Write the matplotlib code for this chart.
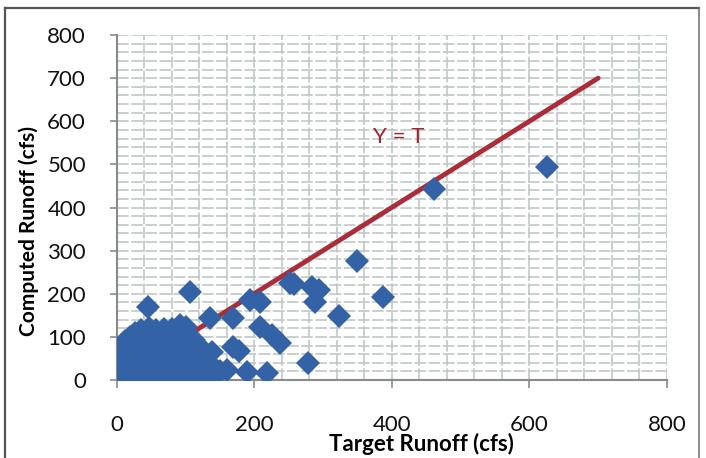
import matplotlib
matplotlib.use("Agg")
import matplotlib.pyplot as plt
from matplotlib.lines import Line2D
from matplotlib.ticker import MultipleLocator

# target (x) and computed (y) runoff, cfs
target = [2, 3, 4, 5, 3, 6, 8, 9, 10, 11, 12, 14, 15, 16, 18, 17, 19, 21, 22, 24,
          25, 26, 27, 29, 30, 32, 33, 34, 35, 36, 38, 40, 41, 42, 44, 45, 47, 49, 50, 52,
          53, 55, 56, 58, 60, 61, 63, 64, 66, 67, 69, 70, 72, 73, 75, 77, 78, 80, 82, 84,
          85, 87, 88, 90, 92, 94, 95, 97, 98, 100, 101, 104, 106, 108, 110, 112, 115, 118, 120, 123,
          126, 128, 131, 135, 140, 145, 150, 107, 131, 66,
          160, 190, 218, 46, 107, 136, 170, 139, 170, 178,
          194, 208, 208, 226, 237, 252, 258, 284, 295, 288,
          279, 324, 350, 388, 462, 626]
computed = [5, 18, 35, 52, 70, 80, 12, 28, 45, 62, 90, 8, 22, 38, 55, 72, 100, 15, 30, 48,
            65, 85, 108, 5, 20, 40, 58, 78, 95, 115, 12, 30, 50, 70, 88, 105, 120, 8, 25, 42,
            62, 80, 98, 115, 15, 35, 55, 72, 90, 108, 118, 5, 22, 45, 65, 85, 100, 118, 12, 32,
            52, 75, 95, 112, 128, 20, 40, 60, 82, 102, 122, 10, 30, 50, 72, 92, 18, 38, 58, 75,
            8, 28, 45, 15, 30, 10, 22, 5, 12, 3,
            23, 19, 16, 170, 204, 144, 144, 65, 77, 68,
            186, 181, 123, 104, 86, 225, 222, 216, 209, 181,
            39, 148, 276, 193, 443, 494]

# the Y = T reference line
line_t = [0, 700]
line_y = [0, 700]

plt.rcParams['font.family'] = ['Lato', 'DejaVu Sans']

fig = plt.figure(figsize=(7.06, 4.58), dpi=100)
ax = fig.add_axes([116.5 / 706, 1 - 380 / 458, (667 - 116.5) / 706, (380 - 35) / 458])

ax.plot(line_t, line_y, color='#ac2d3a', lw=3.5, solid_capstyle='round', zorder=2)
ax.plot(target, computed, linestyle='none', marker='D', ms=12, color='#3462a6',
        markeredgewidth=0, zorder=3)
ax.text(410, 564, 'Y = T', color='#9c2636', fontsize=16, ha='center', va='center')

ax.set_xlim(0, 800)
ax.set_ylim(0, 800)
ax.xaxis.set_major_locator(MultipleLocator(200))
ax.yaxis.set_major_locator(MultipleLocator(100))
ax.xaxis.set_minor_locator(MultipleLocator(40))
ax.yaxis.set_minor_locator(MultipleLocator(20))

# excel style gridlines, all the same light grey
ax.grid(which='both', color='#bfc7c7', lw=1.2, linestyle=(0, (7, 1.5)))
ax.set_axisbelow(True)

for s in ['top', 'right']:
    ax.spines[s].set_visible(False)
for s in ['left', 'bottom']:
    ax.spines[s].set_color('#8a8a8a')
    ax.spines[s].set_linewidth(1.5)

ax.tick_params(which='minor', length=0)
ax.tick_params(axis='x', which='major', length=6, width=1.2, color='#8a8a8a',
               labelsize=16, labelcolor='#111111', pad=19)
ax.tick_params(axis='y', which='major', length=5, width=1.2, color='#8a8a8a',
               labelsize=16, labelcolor='#111111', pad=17)

fig.text(421 / 706, 1 - 444 / 458, 'Target Runoff (cfs)', fontsize=16, fontweight='bold',
         ha='center', va='center')
fig.text(29 / 706, 1 - 231 / 458, 'Computed Runoff (cfs)', fontsize=15, fontweight='bold',
         ha='center', va='center', rotation=90)

# frame around the scanned figure
fig.add_artist(Line2D([5 / 706, 5 / 706], [0, 1 - 8 / 458], color='#555555', lw=1.6))
fig.add_artist(Line2D([5 / 706, 699 / 706], [1 - 8 / 458, 1 - 8 / 458], color='#555555', lw=1.6))
fig.add_artist(Line2D([699 / 706, 699 / 706], [0, 1 - 8 / 458], color='#777777', lw=1.2))

fig.savefig('out.png', dpi=100)
